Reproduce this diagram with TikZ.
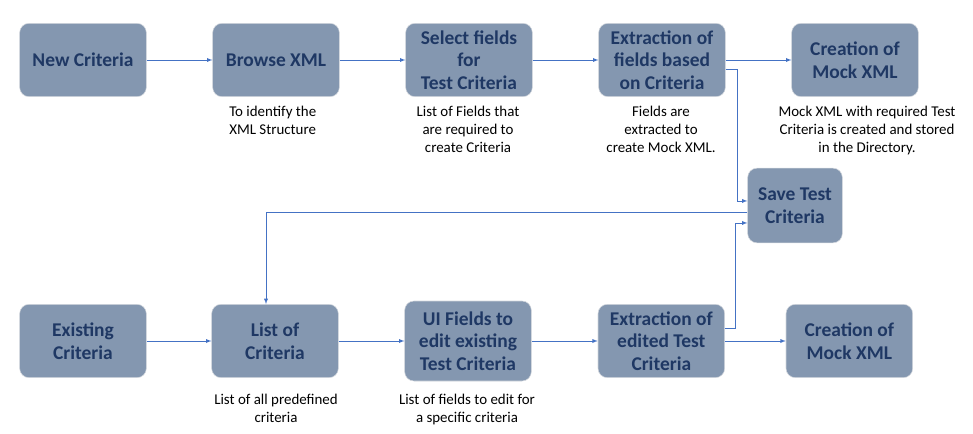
\documentclass[tikz,border=0pt]{standalone}
\usepackage{fontspec}
\setmainfont{Carlito}
\usetikzlibrary{arrows}

\definecolor{boxfill}{HTML}{8497B0}
\definecolor{boxtext}{HTML}{1F3864}
\definecolor{boxline}{HTML}{D3D7DD}
\definecolor{flowblue}{HTML}{4472C4}

\tikzset{
    stepbox/.style={draw=boxline, fill=boxfill, rounded corners=7pt, minimum width=95pt, minimum height=55pt, inner sep=1pt, align=center, text=boxtext, font=\fontsize{14.6}{17}\selectfont\bfseries},
    note/.style={align=center, inner sep=0pt, font=\fontsize{11.2}{13.5}\selectfont},
    flow/.style={draw=flowblue, ->, >=latex, thin}
}

\begin{document}
\begin{tikzpicture}[x=0.75pt, y=-0.75pt]
        \useasboundingbox (0,0) rectangle (973,434);

        % new criteria
        \node (new) [stepbox] at (83,60) {New Criteria};
        \node (browse) [stepbox, right of=new, node distance=144.75pt] {Browse XML};
        \node (select) [stepbox, right of=browse, node distance=144.75pt] {Select fields\\for\\Test Criteria};
        \node (fields) [stepbox, right of=select, node distance=144.75pt] {Extraction of\\fields based\\on Criteria};
        \node (mocka) [stepbox, right of=fields, node distance=144.75pt] {Creation of\\Mock XML};

        \node (save) [stepbox, minimum width=71pt, minimum height=56pt] at (795,205.5) {Save Test\\Criteria};

        % existing criteria
        \node (existing) [stepbox] at (83,341) {Existing\\Criteria};
        \node (list) [stepbox, right of=existing, node distance=144pt] {List of\\Criteria};
        \node (edit) [stepbox, right of=list, node distance=144.75pt, minimum height=60pt] {UI Fields to\\edit existing\\Test Criteria};
        \node (edited) [stepbox, right of=edit, node distance=145pt] {Extraction of\\edited Test\\Criteria};
        \node (mockb) [stepbox, right of=edited, node distance=141pt] {Creation of\\Mock XML};

        % notes
        \node (browsenote) [note, align=left, anchor=north west] at (229,106) {To identify the\\XML Structure};
        \node (selectnote) [note, anchor=north] at (468,106) {List of Fields that\\are required to\\create Criteria};
        \node (fieldsnote) [note, anchor=north] at (661,106) {Fields are\\extracted to\\create Mock XML.};
        \node (mockanote) [note, anchor=north] at (867,106) {Mock XML with required Test\\Criteria is created and stored\\in the Directory.};
        \node (listnote) [note, anchor=north] at (276,394) {List of all predefined\\criteria};
        \node (editnote) [note, anchor=north] at (467,394) {List of fields to edit for\\a specific criteria};

        \draw[flow] (new) -- (browse);
        \draw[flow] (browse) -- (select);
        \draw[flow] (select) -- (fields);
        \draw[flow] (fields) -- (mocka);
        \draw[flow] ([yshift=-6.75pt]fields.east) -- ++(12,0) |- ([yshift=3.4pt]save.west);
        \draw[flow] ([yshift=-4.9pt]save.west) -| ([xshift=-6.75pt]list.north);

        \draw[flow] (existing) -- (list);
        \draw[flow] (list) -- (edit);
        \draw[flow] (edit) -- (edited);
        \draw[flow] (edited) -- (mockb);
        \draw[flow] ([yshift=9.75pt]edited.east) -- ++(10,0) |- ([yshift=-13.1pt]save.west);
    \end{tikzpicture}
\end{document}
